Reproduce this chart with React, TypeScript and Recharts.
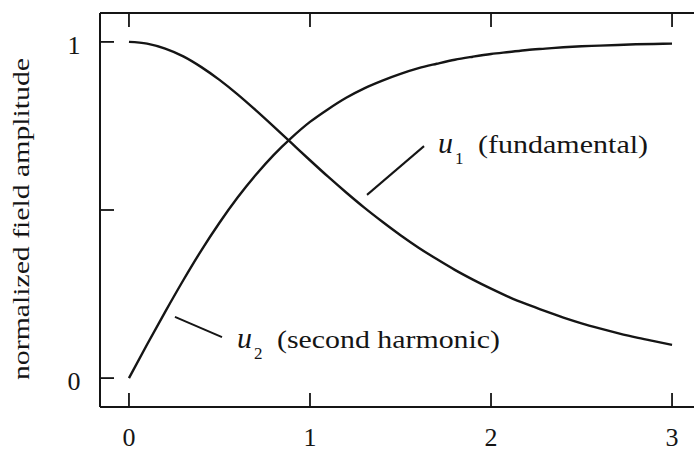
import React from 'react';
import { LineChart, Line, XAxis, YAxis, ReferenceLine, Label } from 'recharts';

// propagation distance (normalized) and the two field amplitudes read along it
const distance = [
  0, 0.1, 0.2, 0.3, 0.4, 0.5, 0.6, 0.7, 0.8, 0.9, 1.0, 1.1, 1.2, 1.3, 1.4, 1.5,
  1.6, 1.7, 1.8, 1.9, 2.0, 2.1, 2.2, 2.3, 2.4, 2.5, 2.6, 2.7, 2.8, 2.9, 3.0,
];
const fundamental = [
  1.0, 0.995, 0.98, 0.957, 0.925, 0.887, 0.844, 0.797, 0.748, 0.698, 0.648, 0.599, 0.552, 0.507, 0.465, 0.425,
  0.388, 0.354, 0.322, 0.293, 0.266, 0.241, 0.219, 0.199, 0.18, 0.163, 0.148, 0.134, 0.121, 0.11, 0.099,
];
const secondHarmonic = [
  0, 0.1, 0.197, 0.291, 0.38, 0.462, 0.537, 0.604, 0.664, 0.716, 0.762, 0.8, 0.834, 0.862, 0.885, 0.905,
  0.922, 0.935, 0.947, 0.956, 0.964, 0.97, 0.976, 0.98, 0.984, 0.987, 0.989, 0.991, 0.993, 0.994, 0.995,
];

const xTicks = [0, 1, 2, 3];
const yTicks = [0, 0.5, 1];
const yTickLabels: Record<number, string> = { 0: '0', 1: '1' };

const data = distance.map((x, i) => ({ x, u1: fundamental[i], u2: secondHarmonic[i] }));

const INK = '#151515';
const serif = { fontFamily: "'Liberation Serif', 'Times New Roman', Times, serif" };
const TICK = 14;
const X_DOMAIN: [number, number] = [-0.16, 3.16];
const Y_DOMAIN: [number, number] = [-0.086, 1.086];

// leader lines from the annotations to the curves (data units)
const u1Leader = [{ x: 1.315, y: 0.545 }, { x: 1.63, y: 0.69 }];
const u2Leader = [{ x: 0.254, y: 0.182 }, { x: 0.514, y: 0.122 }];

const BottomTick = (props: any) => {
  const { x, y, payload } = props;
  return (
    <g>
      <line x1={x} y1={y} x2={x} y2={y - TICK} stroke={INK} strokeWidth={1.8} />
      <text x={x} y={y + 39} textAnchor="middle" style={serif} fontSize={26} fill={INK}>
        {payload.value}
      </text>
    </g>
  );
};

const TopTick = (props: any) => {
  const { x, y } = props;
  return <line x1={x} y1={y} x2={x} y2={y + TICK} stroke={INK} strokeWidth={1.8} />;
};

const LeftTick = (props: any) => {
  const { x, y, payload } = props;
  const text = yTickLabels[payload.value];
  return (
    <g>
      <line x1={x} y1={y} x2={x + TICK} y2={y} stroke={INK} strokeWidth={1.8} />
      {text && (
        <text x={x - 26} y={y + 12} textAnchor="middle" style={serif} fontSize={26} fill={INK}>
          {text}
        </text>
      )}
    </g>
  );
};

const RightTick = (props: any) => {
  const { x, y } = props;
  return <line x1={x} y1={y} x2={x - TICK} y2={y} stroke={INK} strokeWidth={1.8} />;
};

const YTitle = (props: any) => {
  const vb = props.viewBox || { x: 100, y: 13, width: 0, height: 394 };
  const cx = 29;
  const cy = vb.y + vb.height / 2 + 9;
  return (
    <text
      x={cx}
      y={cy}
      transform={`rotate(-90 ${cx} ${cy})`}
      textAnchor="middle"
      style={serif}
      fontSize={23}
      fill={INK}
      textLength={322}
      lengthAdjust="spacingAndGlyphs"
    >
      normalized field amplitude
    </text>
  );
};

// "u_n (description)" placed off the far end of a leader line
const curveTag = (sub: string, desc: string, width: number, dx: number, dy: number, fromBottom: boolean) =>
  (props: any) => {
    const vb = props.viewBox;
    if (!vb) return null;
    const left = vb.x + vb.width;
    const base = (fromBottom ? vb.y + vb.height : vb.y) + dy;
    return (
      <g fill={INK}>
        <text x={left + dx} y={base} style={serif} fontSize={30} fontStyle="italic">u</text>
        <text x={left + dx + 17} y={base + 11} style={serif} fontSize={17}>{sub}</text>
        <text
          x={left + dx + 40}
          y={base}
          style={serif}
          fontSize={26}
          textLength={width}
          lengthAdjust="spacingAndGlyphs"
        >
          {desc}
        </text>
      </g>
    );
  };

const U1Tag = curveTag('1', '(fundamental)', 170, 14, 7, false);
const U2Tag = curveTag('2', '(second harmonic)', 223, 15, 11, true);

const frame = { stroke: INK, strokeWidth: 2 };

export default function App() {
  return (
    <div
      style={{
        position: 'absolute',
        left: 0,
        top: 0,
        width: 694,
        height: 451,
        overflow: 'hidden',
        background: '#fff',
      }}
    >
      <LineChart width={702} height={451} data={data} margin={{ top: 12, right: 0, bottom: 43, left: 99 }}>
        <XAxis
          dataKey="x"
          type="number"
          domain={X_DOMAIN}
          ticks={xTicks}
          interval={0}
          height={1}
          tickSize={0}
          tickMargin={0}
          tickLine={false}
          tick={<BottomTick />}
          axisLine={frame}
        />
        <XAxis
          xAxisId="top"
          orientation="top"
          dataKey="x"
          type="number"
          domain={X_DOMAIN}
          ticks={xTicks}
          interval={0}
          height={1}
          tickSize={0}
          tickMargin={0}
          tickLine={false}
          tick={<TopTick />}
          axisLine={frame}
        />
        <YAxis
          type="number"
          domain={Y_DOMAIN}
          ticks={yTicks}
          interval={0}
          width={1}
          tickSize={0}
          tickMargin={0}
          tickLine={false}
          tick={<LeftTick />}
          axisLine={frame}
        >
          <Label content={YTitle} />
        </YAxis>
        <YAxis
          yAxisId="right"
          orientation="right"
          type="number"
          domain={Y_DOMAIN}
          ticks={yTicks}
          interval={0}
          width={1}
          tickSize={0}
          tickMargin={0}
          tickLine={false}
          tick={<RightTick />}
          axisLine={frame}
        />
        <Line
          type="monotone"
          dataKey="u1"
          stroke={INK}
          strokeWidth={2.4}
          dot={false}
          isAnimationActive={false}
        />
        <Line
          type="monotone"
          dataKey="u2"
          stroke={INK}
          strokeWidth={2.4}
          dot={false}
          isAnimationActive={false}
        />
        <ReferenceLine segment={u1Leader} stroke={INK} strokeWidth={2} label={U1Tag} />
        <ReferenceLine segment={u2Leader} stroke={INK} strokeWidth={2} label={U2Tag} />
      </LineChart>
    </div>
  );
}
